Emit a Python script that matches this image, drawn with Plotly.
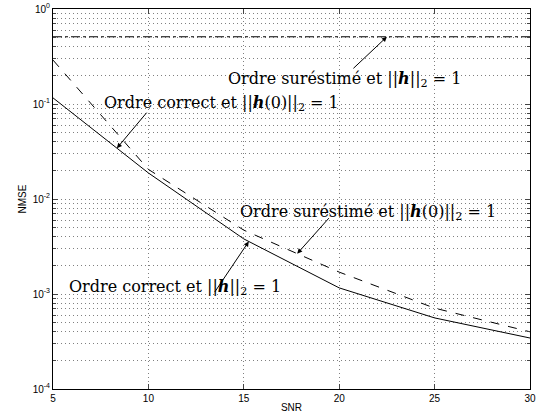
import numpy as np
import plotly.graph_objects as go

snr = [5, 10, 15, 20, 25, 30]
nmse_correct_h = [0.116, 0.0188, 0.0038, 0.00116, 0.00056, 0.000344]
nmse_over_h0 = [0.29, 0.0205, 0.0047, 0.0017, 0.00071, 0.0004]
nmse_over_h = [0.51, 0.51, 0.51, 0.51, 0.51, 0.51]

ytick_vals = [1e-4, 1e-3, 1e-2, 1e-1, 1e0]
ytick_text = ["10<sup>-4</sup>", "10<sup>-3</sup>", "10<sup>-2</sup>", "10<sup>-1</sup>", "10<sup>0</sup>"]
minor_vals = [m * 10.0 ** e for e in range(-4, 0) for m in range(2, 10)]

# labels: text, x, log10(y) of the text, x where the arrow hits the curve, arrow tail offset (px)
labels = [
    ("Ordre suréstimé et ||<b><i>h</i></b>||<sub>2</sub> = 1", 20.3, -0.74, 22.5, nmse_over_h, -35, 33),
    ("Ordre correct et ||<b><i>h</i></b>(0)||<sub>2</sub> = 1", 13.85, -0.99, 8.35, nmse_correct_h, 31, -37),
    ("Ordre suréstimé et ||<b><i>h</i></b>(0)||<sub>2</sub> = 1", 21.5, -2.14, 17.8, nmse_over_h0, 33, -37),
    ("Ordre correct et ||<b><i>h</i></b>||<sub>2</sub> = 1", 11.4, -2.93, 15.26, nmse_correct_h, -35, 52),
]

fig = go.Figure()
fig.add_trace(go.Scatter(x=snr, y=nmse_correct_h, mode="lines", line=dict(color="black", width=1)))
fig.add_trace(go.Scatter(x=snr, y=nmse_over_h0, mode="lines", line=dict(color="black", width=1, dash="dash")))
fig.add_trace(go.Scatter(x=snr, y=nmse_over_h, mode="lines", line=dict(color="black", width=1, dash="dashdot")))

for text, tx, ty, hx, series, ax, ay in labels:
    hy = np.interp(hx, snr, np.log10(series))
    fig.add_annotation(x=tx, y=ty, text=text, showarrow=False,
                       font=dict(family="DejaVu Serif", size=16, color="black"))
    fig.add_annotation(x=hx, y=hy, text="", showarrow=True, ax=ax, ay=ay,
                       arrowhead=2, arrowsize=1, arrowwidth=1, arrowcolor="black")

dot = "1px,3px"
grid = dict(showgrid=True, gridcolor="#808080", griddash=dot, gridwidth=1)
fig.update_xaxes(range=[5, 30], tickvals=snr, ticks="inside", ticklen=5, mirror="allticks",
                 showline=True, linecolor="black", linewidth=1, zeroline=False, automargin=False,
                 title=dict(text="SNR", font=dict(size=10), standoff=0),
                 tickfont=dict(size=10), **grid)
fig.update_yaxes(type="log", range=[-4, 0], tickvals=ytick_vals, ticktext=ytick_text,
                 ticks="inside", ticklen=5, mirror="allticks", automargin=False,
                 showline=True, linecolor="black", linewidth=1, zeroline=False,
                 title=dict(text="NMSE", font=dict(size=10), standoff=4),
                 tickfont=dict(size=10),
                 minor=dict(tickvals=minor_vals, ticks="inside", ticklen=3, showgrid=True,
                            gridcolor="#808080", griddash=dot, gridwidth=1),
                 **grid)
fig.update_layout(width=537, height=417, margin=dict(l=53, r=7, t=9, b=28),
                  plot_bgcolor="white", paper_bgcolor="white", showlegend=False,
                  font=dict(family="Liberation Sans", color="black"))
fig.write_html("out.html", config={"displayModeBar": False},
               post_script="document.body.style.margin='0';")
